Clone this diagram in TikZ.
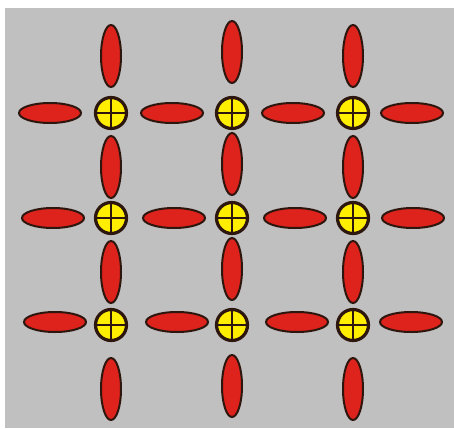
\documentclass[tikz,border=0pt]{standalone}
\usepackage{tikz}
\usetikzlibrary{shapes.geometric}

\definecolor{fond}{RGB}{192,192,192}
\definecolor{rouge}{RGB}{222,34,28}
\definecolor{jaune}{RGB}{255,238,0}
\definecolor{bord}{RGB}{45,22,14}

\begin{document}
\begin{tikzpicture}[
                x=1pt, y=-1pt,
                every node/.style={draw=bord, inner sep=0pt, outer sep=0pt},
                lobeh/.style={ellipse, fill=rouge, line width=2pt, minimum width=62pt, minimum height=20pt},
                lobev/.style={ellipse, fill=rouge, line width=2pt, minimum width=20pt, minimum height=62pt},
                noeud/.style={circle, fill=jaune, line width=3.2pt, minimum size=31pt},
                croix/.style={draw=bord, line width=2.8pt}]
            % Fond
            \useasboundingbox (0,0) rectangle (454,428);
            \fill[fond] (5,8) rectangle (454,428);

            % Ellipses horizontales
            \foreach \y/\xa/\xb/\xc/\xd/\r in {113/50/172/293/412/1, 218/53/174/295/413/2, 322/55/177/297/411/3} {
                \node[lobeh] (h\r1) at (\xa,\y) {};
                \node[lobeh] (h\r2) at (\xb,\y) {};
                \node[lobeh] (h\r3) at (\xc,\y) {};
                \node[lobeh] (h\r4) at (\xd,\y) {};
            }

            % Ellipses verticales
            \foreach \x/\ya/\yb/\yc/\yd/\c in {111/56/167/272/389/1, 232/52/164/269/386/2, 353/56/167/272/389/3} {
                \node[lobev] (v\c1) at (\x,\ya) {};
                \node[lobev] (v\c2) at (\x,\yb) {};
                \node[lobev] (v\c3) at (\x,\yc) {};
                \node[lobev] (v\c4) at (\x,\yd) {};
            }

            % Noeuds jaunes
            \foreach \x/\c in {111/1, 232/2, 353/3}
                \foreach \y/\r in {113/1, 218/2, 325/3} {
                    \node[noeud] (n\c\r) at (\x,\y) {};
                    \draw[croix] (n\c\r.north) -- (n\c\r.south);
                    \draw[croix] (n\c\r.west) -- (n\c\r.east);
                }

        \end{tikzpicture}
\end{document}
